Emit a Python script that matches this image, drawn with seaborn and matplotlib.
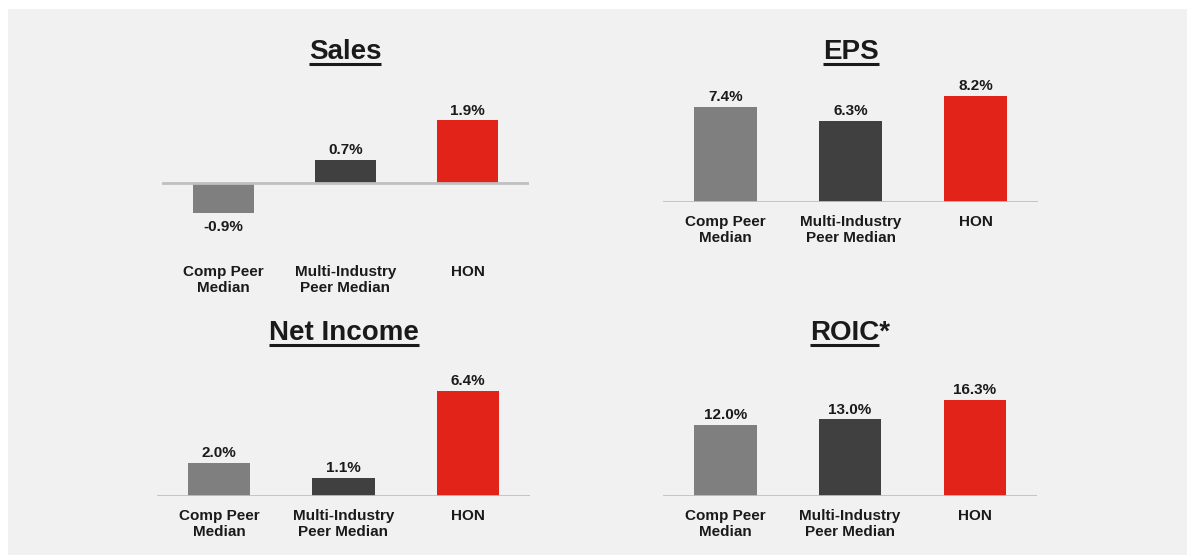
import matplotlib
matplotlib.use("Agg")
import matplotlib.pyplot as plt
from matplotlib.patches import Rectangle
from matplotlib.lines import Line2D
import seaborn as sns
import pandas as pd

# ---- data ----
categories = ["Comp Peer\nMedian", "Multi-Industry\nPeer Median", "HON"]
sales = [-0.9, 0.7, 1.9]
eps = [7.4, 6.3, 8.2]
net_income = [2.0, 1.1, 6.4]
roic = [12.0, 13.0, 16.3]
titles = ["Sales", "EPS", "Net Income", "ROIC*"]
bar_colors = ["#7f7f7f", "#404040", "#e2231a"]

sns.set_theme(style="white")
plt.rcParams["font.family"] = ["Liberation Sans", "DejaVu Sans"]

W, H = 1187, 555
fig = plt.figure(figsize=(W / 100, H / 100), dpi=100)
fig.patch.set_facecolor("white")
BG = "#f1f1f1"
fig.add_artist(Rectangle((8 / W, 0), 1 - 8 / W, 1 - 9 / H, transform=fig.transFigure,
                         facecolor=BG, edgecolor="none", zorder=-10))

TXT = "#1a1a1a"


def px_axes(left, top, right, bottom):
    return fig.add_axes([left / W, 1 - bottom / H, (right - left) / W, (bottom - top) / H])


# panel boxes in pixels (left, top, right, bottom) and y-limits
panels = [
    (sales, (162, 95, 529, 252), (-(252 - 183) / 33.0, (183 - 95) / 33.0), (345, 59)),
    (eps, (663, 90, 1038, 202), (0, (202 - 90) / 12.9), (851, 59)),
    (net_income, (157, 375, 530, 496), (0, (496 - 375) / 16.4), (344, 340)),
    (roic, (663, 380, 1037, 496), (0, (496 - 380) / 5.9), (850, 340)),
]

title_texts = []
for (vals, box, ylim, tpos), title in zip(panels, titles):
    ax = px_axes(*box)
    ax.set_facecolor("none")
    df = pd.DataFrame({"cat": categories, "val": vals})
    sns.barplot(data=df, x="cat", y="val", hue="cat", palette=bar_colors,
                saturation=1, width=0.5, legend=False, ax=ax, zorder=2, linewidth=0)
    ax.set_xlim(-0.5, 2.5)
    ax.set_ylim(*ylim)
    ax.axhline(0, color="#c0c0c0", lw=2, zorder=3)
    for c, v in zip(ax.containers, vals):
        ax.bar_label(c, labels=[f"{v:.1f}%"], padding=2 if v >= 0 else 5,
                     fontsize=11, fontweight="bold", color=TXT)
    for s in ax.spines.values():
        s.set_visible(False)
    ax.set_xlabel("")
    ax.set_ylabel("")
    ax.set_yticks([])
    ax.tick_params(axis="x", length=0, pad=9.5)
    for lab in ax.get_xticklabels():
        lab.set_fontweight("bold")
        lab.set_fontsize(11)
        lab.set_color(TXT)
    t = fig.text(tpos[0] / W, 1 - tpos[1] / H, title, ha="center", va="baseline",
                 fontsize=20, fontweight="bold", color=TXT)
    title_texts.append((t, title))

fig.canvas.draw()
r = fig.canvas.get_renderer()
for t, title in title_texts:
    bb = t.get_window_extent(r)
    part = title.rstrip("*")
    if part != title:
        tmp = fig.text(0, 0, part, fontsize=20, fontweight="bold")
        w = tmp.get_window_extent(r).width
        tmp.remove()
    else:
        w = bb.width
    x0 = bb.x0
    xb, yb = t.get_position()
    y = yb - 4.5 / H
    fig.add_artist(Line2D([x0 / W, (x0 + w) / W], [y, y], transform=fig.transFigure,
                          color=TXT, lw=2.2, solid_capstyle="butt"))

fig.savefig("out.png", dpi=100, facecolor=fig.get_facecolor())
